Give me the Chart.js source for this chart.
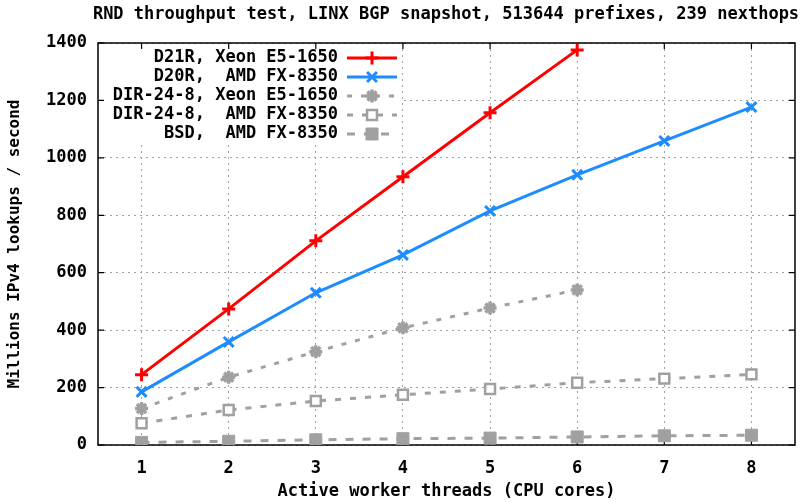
<!DOCTYPE html>
<html lang="en">
<head>
  <meta charset="UTF-8">
  <title>RND throughput test</title>
  <script src="https://cdn.jsdelivr.net/npm/chart.js"></script>
  <style>
    html, body { margin: 0; padding: 0; background: #fff; }
    #wrap { width: 808px; height: 502px; }
  </style>
</head>
<body>
  <div id="wrap"><canvas id="rnd"></canvas></div>

  <script>
    const threads = [1, 2, 3, 4, 5, 6, 7, 8];
    const yTicks = [0, 200, 400, 600, 800, 1000, 1200, 1400];

    const d21rXeon = [245, 474, 711, 934, 1157, 1376];
    const d20rAmd = [185, 359, 530, 662, 815, 941, 1059, 1177];
    const dirXeon = [127, 236, 325, 408, 477, 540];
    const dirAmd = [76, 122, 153, 175, 195, 217, 231, 246];
    const bsdAmd = [9, 13, 18, 22, 24, 28, 32, 34];

    const labels = [
      'D21R, Xeon E5-1650',
      'D20R,  AMD FX-8350',
      'DIR-24-8, Xeon E5-1650',
      'DIR-24-8,  AMD FX-8350',
      'BSD,  AMD FX-8350'
    ];

    const FONT = '"DejaVu Sans Mono", "Liberation Mono", monospace';
    const GRAY = '#a0a0a0';

    function pts(vals) {
      return vals.map((v, i) => ({ x: threads[i], y: v }));
    }

    // frame, inward ticks and the opaque key box
    const framePlugin = {
      id: 'frame',
      beforeDatasetsDraw(chart) {
        const { ctx, chartArea: a, scales } = chart;
        ctx.save();
        ctx.fillStyle = '#fff';
        ctx.fillRect(a.left + 1, a.top + 1, 302, 101);
        ctx.strokeStyle = '#000';
        ctx.lineWidth = 1.5;
        ctx.strokeRect(a.left, a.top, a.right - a.left, a.bottom - a.top);
        ctx.lineWidth = 1.2;
        ctx.beginPath();
        yTicks.forEach(v => {
          const y = scales.y.getPixelForValue(v);
          ctx.moveTo(a.left, y); ctx.lineTo(a.left + 6, y);
          ctx.moveTo(a.right, y); ctx.lineTo(a.right - 6, y);
        });
        threads.forEach(v => {
          const x = scales.x.getPixelForValue(v);
          ctx.moveTo(x, a.bottom); ctx.lineTo(x, a.bottom - 6);
          ctx.moveTo(x, a.top); ctx.lineTo(x, a.top + 6);
        });
        ctx.stroke();
        ctx.restore();
      },
      afterDraw(chart) {
        const { ctx } = chart;
        ctx.save();
        ctx.font = 'bold 17px ' + FONT;
        ctx.fillStyle = '#000';
        ctx.textBaseline = 'middle';
        ctx.textAlign = 'center';
        ctx.fillText('RND throughput test, LINX BGP snapshot, 513644 prefixes, 239 nexthops', 446, 15);

        ctx.textAlign = 'right';
        chart.data.datasets.forEach((ds, i) => {
          const y = 58 + i * 19;
          ctx.fillStyle = '#000';
          ctx.fillText(labels[i], 338, y);
          ctx.save();
          ctx.strokeStyle = ds.borderColor;
          ctx.lineWidth = ds.borderWidth;
          ctx.setLineDash(ds.borderDash || []);
          ctx.beginPath();
          ctx.moveTo(347, y); ctx.lineTo(397, y);
          ctx.stroke();
          ctx.lineWidth = ds.pointBorderWidth;
          ctx.strokeStyle = ds.pointBorderColor;
          ctx.fillStyle = ds.pointBackgroundColor;
          ctx.setLineDash([]);
          Chart.helpers.drawPoint(ctx, {
            pointStyle: ds.pointStyle,
            radius: ds.pointRadius,
            borderWidth: ds.pointBorderWidth
          }, 372, y);
          ctx.restore();
        });
        ctx.restore();
      }
    };

    const ctx = document.getElementById('rnd').getContext('2d');
    const chart = new Chart(ctx, {
      type: 'line',
      data: {
        datasets: [
          {
            label: labels[0],
            data: pts(d21rXeon),
            borderColor: '#ff0000',
            borderWidth: 3,
            pointStyle: 'cross',
            pointRadius: 6.5,
            pointBorderWidth: 3,
            pointBorderColor: '#ff0000',
            pointBackgroundColor: '#ff0000'
          },
          {
            label: labels[1],
            data: pts(d20rAmd),
            borderColor: '#1e8cff',
            borderWidth: 3,
            pointStyle: 'crossRot',
            pointRadius: 7,
            pointBorderWidth: 3,
            pointBorderColor: '#1e8cff',
            pointBackgroundColor: '#1e8cff'
          },
          {
            label: labels[2],
            data: pts(dirXeon),
            borderColor: GRAY,
            borderWidth: 3,
            borderDash: [5, 9],
            pointStyle: 'star',
            pointRadius: 6.5,
            pointBorderWidth: 3.5,
            pointBorderColor: GRAY,
            pointBackgroundColor: GRAY
          },
          {
            label: labels[3],
            data: pts(dirAmd),
            borderColor: GRAY,
            borderWidth: 3,
            borderDash: [6, 9],
            pointStyle: 'rect',
            pointRadius: 7,
            pointBorderWidth: 2.5,
            pointBorderColor: GRAY,
            pointBackgroundColor: '#fff'
          },
          {
            label: labels[4],
            data: pts(bsdAmd),
            borderColor: GRAY,
            borderWidth: 3,
            borderDash: [8, 9],
            pointStyle: 'rect',
            pointRadius: 8.5,
            pointBorderWidth: 1,
            pointBorderColor: GRAY,
            pointBackgroundColor: GRAY
          }
        ]
      },
      options: {
        responsive: true,
        maintainAspectRatio: false,
        animation: false,
        layout: { padding: { left: 0, right: 13, top: 43, bottom: 0 } },
        plugins: {
          legend: { display: false },
          title: { display: false },
          tooltip: { enabled: false }
        },
        scales: {
          x: {
            type: 'linear',
            min: 0.5,
            max: 8.5,
            afterBuildTicks: axis => { axis.ticks = threads.map(v => ({ value: v })); },
            afterFit: s => { s.height = 57; },
            grid: { color: GRAY, lineWidth: 1, drawTicks: false },
            border: { display: false, dash: [2, 4] },
            ticks: {
              padding: 13,
              color: '#000',
              callback: v => String(v),
              font: { family: FONT, size: 17, weight: 'bold' }
            },
            title: {
              display: true,
              text: 'Active worker threads (CPU cores)',
              color: '#000',
              padding: { top: 0, bottom: 0 },
              font: { family: FONT, size: 17, weight: 'bold' }
            }
          },
          y: {
            min: 0,
            max: 1400,
            afterBuildTicks: axis => { axis.ticks = yTicks.map(v => ({ value: v })); },
            afterFit: s => { s.width = 98; },
            grid: { color: GRAY, lineWidth: 1, drawTicks: false },
            border: { display: false, dash: [2, 4] },
            ticks: {
              padding: 11,
              color: '#000',
              callback: v => String(v),
              font: { family: FONT, size: 17, weight: 'bold' }
            },
            title: {
              display: true,
              text: 'Millions IPv4 lookups / second',
              color: '#000',
              padding: { top: 5, bottom: 0 },
              font: { family: FONT, size: 16, weight: 'bold' }
            }
          }
        }
      },
      plugins: [framePlugin]
    });
  </script>
</body>
</html>
